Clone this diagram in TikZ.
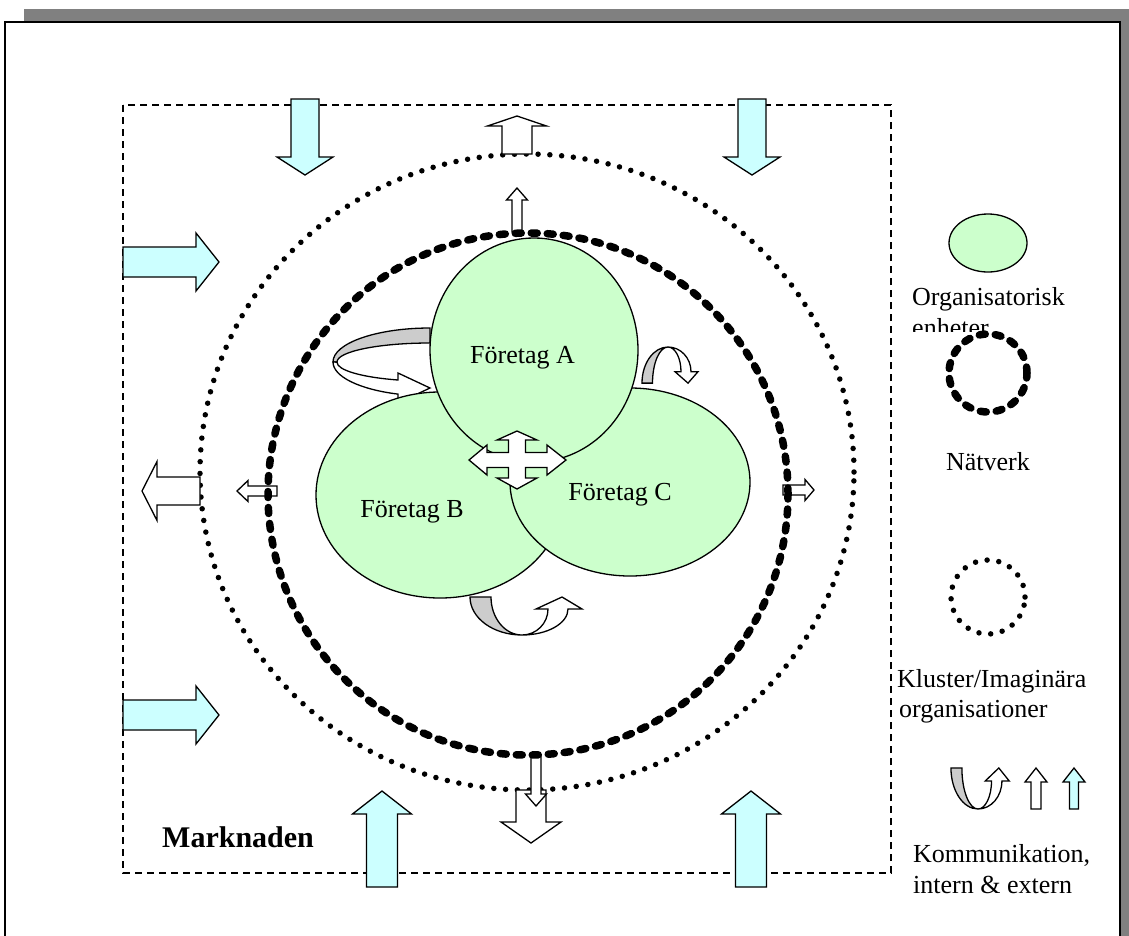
\documentclass[tikz,border=0pt]{standalone}
\usepackage{fontspec}
\setmainfont{Liberation Serif}
\usetikzlibrary{shapes.geometric}
\definecolor{greenfill}{RGB}{204,255,204}
\definecolor{cyanfill}{RGB}{204,255,255}
\definecolor{bandgray}{RGB}{204,204,204}
\definecolor{shadowgray}{RGB}{128,128,128}
% straight block arrow along +x: length, shaft half-width, head half-width, head length
\newcommand\blockarrowpath[4]{(0,-#2) -- ({#1-#4},-#2) -- ({#1-#4},-#3) -- (#1,0) -- ({#1-#4},#3) -- ({#1-#4},#2) -- (0,#2) -- cycle}
\begin{document}
\begin{tikzpicture}[x=1pt,y=1pt,
  outl/.style={draw=black, line width=1.3pt, line join=miter},
  cyanarrow/.style={outl, fill=cyanfill},
  whitearrow/.style={outl, fill=white},
  unitcircle/.style={outl, fill=greenfill, ellipse, inner sep=0pt},
  dotring/.style={draw=black, line width=5.5pt, line cap=round, dash pattern=on 0pt off 11.8pt},
  dashring/.style={draw=black, line width=7.5pt, line cap=round, dash pattern=on 6pt off 10pt},
  marketbox/.style={draw=black, line width=1.4pt, dash pattern=on 7pt off 5pt},
  txt/.style={inner sep=0pt, font=\fontsize{26}{31}\selectfont},
  uturn/.pic={
    % grey back of the ribbon
    \filldraw[outl, fill=bandgray] (-52,38) arc[start angle=180,end angle=270,x radius=52,y radius=38]
      arc[start angle=270,end angle=180,x radius=31,y radius=38] -- cycle;
    % white front of the ribbon with its head
    \filldraw[outl, fill=white] (0,0) arc[start angle=270,end angle=360,x radius=46,y radius=26]
      -- (60,26) -- (40,38) -- (14,26) -- (26,26)
      arc[start angle=0,end angle=-90,radius=26] -- cycle;
  }
]
\useasboundingbox (0,0) rectangle (1129,-935);

% page frame with its shadow
\fill[shadowgray] (24,-9) rectangle (1129,-945);
\draw[line width=2.5pt, fill=white] (5,-22) rectangle (1120,-960);

% the market
\draw[marketbox] (123,-105) rectangle (891,-873);

% cluster ring
\draw[dotring] (527,-472) ellipse [x radius=327, y radius=318];

% incoming market arrows
\draw[cyanarrow, shift={(305,-99)}, rotate=-90] \blockarrowpath{76}{14}{28}{18};
\draw[cyanarrow, shift={(752,-99)}, rotate=-90] \blockarrowpath{76}{14}{28}{18};
\draw[cyanarrow, shift={(123,-262)}] \blockarrowpath{96}{15}{29}{23};
\draw[cyanarrow, shift={(123,-715)}] \blockarrowpath{96}{15}{29}{23};
\draw[cyanarrow, shift={(382,-887)}, rotate=90] \blockarrowpath{96}{15.5}{29.5}{23};
\draw[cyanarrow, shift={(751,-887)}, rotate=90] \blockarrowpath{96}{15.5}{29.5}{23};

% outgoing cluster arrows
\draw[whitearrow, shift={(517,-154)}, rotate=90] \blockarrowpath{38}{15}{29.5}{10};
\draw[whitearrow, shift={(200,-491)}, rotate=180] \blockarrowpath{58}{14}{29.5}{15};
\draw[whitearrow, shift={(531,-790)}, rotate=-90] \blockarrowpath{53}{15}{30}{21};

% outgoing network arrows
\draw[whitearrow, shift={(517,-232)}, rotate=90] \blockarrowpath{44}{5}{10.5}{12};
\draw[whitearrow, shift={(277,-491)}, rotate=180] \blockarrowpath{40}{5}{10.5}{11};
\draw[whitearrow, shift={(783,-490)}] \blockarrowpath{31}{5}{10.5}{9};
\draw[whitearrow, shift={(536,-755)}, rotate=-90] \blockarrowpath{51}{5}{10.5}{12};

% network ring
\draw[dashring] (528,-494) ellipse [x radius=260, y radius=261];

% internal communication ribbons
\filldraw[outl, fill=bandgray] (430,-328) arc[start angle=90,end angle=180,x radius=97,y radius=34]
  -- (337,-362) arc[start angle=180,end angle=90,x radius=93,y radius=19] -- cycle;
\filldraw[outl, fill=white] (333,-362) arc[start angle=180,end angle=250.7,x radius=97,y radius=34]
  -- (398,-403) -- (430,-388) -- (398,-373) -- (398,-380)
  arc[start angle=249.9,end angle=180,x radius=93,y radius=19] -- cycle;
\pic[xscale=0.5, yscale=-0.95] at (668,-347) {uturn};
\pic at (522,-635) {uturn};

% organisational units
\node[unitcircle, minimum width=248pt, minimum height=206pt] (b) at (440,-495) {};
\node[unitcircle, minimum width=240pt, minimum height=188pt] (c) at (630,-482) {};
\node[unitcircle, minimum width=208pt, minimum height=224pt] (a) at (534,-350) {};
\node[txt, anchor=base] (fa) at (522.5,-363) {Företag A};
\node[txt, anchor=base] (fb) at (412,-517) {Företag B};
\node[txt, anchor=base] (fc) at (620,-500) {Företag C};

% four-way exchange between the units
\filldraw[outl, fill=white] (566,-460) -- (547,-445) -- (547,-452.5) -- (525.5,-452.5) -- (525.5,-440)
  -- (537,-440) -- (517,-431) -- (497,-440) -- (508.5,-440) -- (508.5,-452.5) -- (487,-452.5)
  -- (487,-445) -- (469,-460) -- (487,-475) -- (487,-467.5) -- (508.5,-467.5) -- (508.5,-478)
  -- (497,-478) -- (517,-489) -- (537,-478) -- (525.5,-478) -- (525.5,-467.5) -- (547,-467.5)
  -- (547,-475) -- cycle;

\node[txt, anchor=base west, font=\fontsize{30}{36}\selectfont\bfseries] (mk) at (162,-847) {Marknaden};

% legend
\node[unitcircle, minimum width=78pt, minimum height=58pt] (lg1) at (988,-243) {};
\node[txt, anchor=base west] (l1a) at (912,-305) {Organisatorisk};
\begin{scope}
  \clip (900,-300) rectangle (1110,-331);
  \node[txt, anchor=base west] (l1b) at (912,-336) {enheter};
\end{scope}
\draw[dashring] (988,-373) circle[radius=39];
\node[txt, anchor=base] (l2) at (988,-470) {Nätverk};
\draw[dotring] (988,-597) circle[radius=37];
\node[txt, anchor=base west] (l3a) at (897,-687) {Kluster/Imaginära};
\node[txt, anchor=base west] (l3b) at (899,-717) {organisationer};
\pic[xscale=0.52, yscale=1.08] at (978,-809) {uturn};
\draw[whitearrow, shift={(1036,-809)}, rotate=90] \blockarrowpath{41}{5}{11}{14};
\draw[cyanarrow, shift={(1074,-809)}, rotate=90] \blockarrowpath{41}{4.5}{11}{14};
\node[txt, anchor=base west] (l4a) at (913,-862) {Kommunikation,};
\node[txt, anchor=base west] (l4b) at (913,-893) {intern \& extern};
\end{tikzpicture}
\end{document}
